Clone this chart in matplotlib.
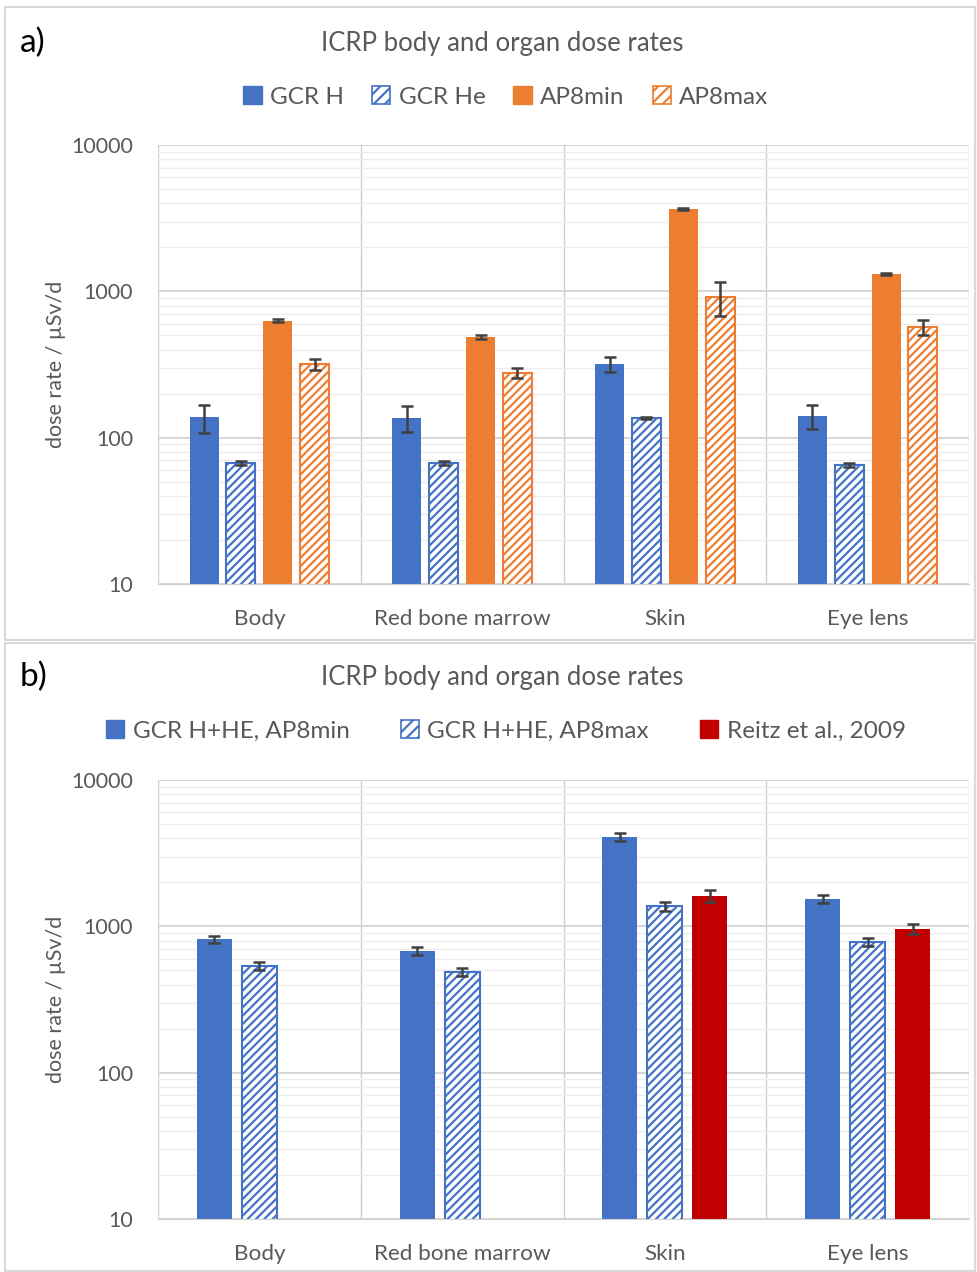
import numpy as np
import matplotlib.pyplot as plt
from matplotlib.patches import Rectangle
from matplotlib.ticker import LogLocator, FixedLocator, NullFormatter

plt.rcParams['font.family'] = ['Lato', 'DejaVu Sans']
plt.rcParams['hatch.linewidth'] = 1.6

# --- Data ---
organs = ["Body", "Red bone marrow", "Skin", "Eye lens"]

# panel a: separate contributions (µSv/d)
gcr_h = [138, 137, 319, 141]
gcr_h_err = [30, 28, 36, 26]
gcr_he = [67, 67, 137, 65]
gcr_he_err = [2, 2, 2, 2]
ap8min = [628, 488, 3660, 1315]
ap8min_err = [15, 12, 60, 25]
ap8max = [319, 277, 916, 571]
ap8max_err = [28, 22, 240, 70]

# panel b: totals compared with measurement
tot_min = [820, 679, 4080, 1540]
tot_min_err = [45, 40, 260, 85]
tot_max = [535, 488, 1378, 782]
tot_max_err = [35, 30, 100, 50]
reitz = [np.nan, np.nan, 1614, 960]
reitz_err = [np.nan, np.nan, 150, 80]

BLUE = "#4472C4"
ORANGE = "#ED7D31"
RED = "#C00000"
TXT = "#595959"
ERR = "#404040"

W, H = 977, 1272
fig = plt.figure(figsize=(W / 100, H / 100), dpi=100)


def fx(px):
    return px / W


def fy(py):
    return 1 - py / H


def setup_axes(ax):
    ax.set_yscale("log")
    ax.set_ylim(10, 10000)
    ax.set_xlim(-0.5, len(organs) - 0.5)
    ax.yaxis.set_major_locator(FixedLocator([10, 100, 1000, 10000]))
    ax.set_yticklabels(["10", "100", "1000", "10000"])
    ax.yaxis.set_minor_locator(LogLocator(base=10, subs=np.arange(2, 10)))
    ax.yaxis.set_minor_formatter(NullFormatter())
    ax.grid(which="major", axis="y", color="#d0d0d0", lw=1.2)
    ax.grid(which="minor", axis="y", color="#ededed", lw=1.0)
    for b in np.arange(-0.5, len(organs), 1.0):
        ax.axvline(b, color="#d0d0d0", lw=1.0, zorder=0.5)
    ax.set_axisbelow(True)
    for s in ["top", "right", "left"]:
        ax.spines[s].set_visible(False)
    ax.spines["bottom"].set_color("#d0d0d0")
    ax.tick_params(axis="both", which="both", length=0, colors=TXT)
    ax.tick_params(axis="y", pad=18, labelsize=15.5)
    ax.tick_params(axis="x", pad=18, labelsize=16.2)
    ax.set_xticks(range(len(organs)))
    ax.set_xticklabels(organs)
    ax.set_ylabel("dose rate / µSv/d", color=TXT, fontsize=15.5, labelpad=4)


def draw_bars(ax, x, vals, errs, color, hatched, width):
    if hatched:
        ax.bar(x, vals, width, color="white", edgecolor=color, hatch="////", lw=1.5, zorder=2)
    else:
        ax.bar(x, vals, width, color=color, edgecolor=color, lw=0, zorder=2)
    ax.errorbar(x, vals, yerr=errs, fmt="none", ecolor=ERR, elinewidth=1.8,
                capsize=4, capthick=1.8, zorder=3)


def legend_handle(color, hatched):
    if hatched:
        return Rectangle((0, 0), 1, 1, facecolor="white", edgecolor=color, hatch="///", lw=1.2)
    return Rectangle((0, 0), 1, 1, facecolor=color, edgecolor=color)


x = np.arange(len(organs))

# panel frames
fig.add_artist(Rectangle((fx(5), fy(640)), fx(970), fy(7) - fy(640), transform=fig.transFigure,
                         facecolor="none", edgecolor="#d9d9d9", lw=1.5))
fig.add_artist(Rectangle((fx(5), fy(1271)), fx(970), fy(643) - fy(1271), transform=fig.transFigure,
                         facecolor="none", edgecolor="#d9d9d9", lw=1.5))

# --- panel a ---
ax1 = fig.add_axes([fx(158), fy(584), fx(969 - 158), fy(145) - fy(584)])
setup_axes(ax1)
step, bw = 0.182, 0.143
series_a = [(gcr_h, gcr_h_err, BLUE, False, "GCR H"),
            (gcr_he, gcr_he_err, BLUE, True, "GCR He"),
            (ap8min, ap8min_err, ORANGE, False, "AP8min"),
            (ap8max, ap8max_err, ORANGE, True, "AP8max")]
for i, (v, e, c, h, _) in enumerate(series_a):
    draw_bars(ax1, x + (i - 1.5) * step, v, e, c, h, bw)

fig.text(fx(20), fy(43), "a)", fontsize=24, va="center", ha="left", color="black")
fig.text(fx(502), fy(43), "ICRP body and organ dose rates", fontsize=18.5, ha="center",
         va="center", color=TXT)
fig.legend([legend_handle(c, h) for _, _, c, h, _ in series_a],
           [lbl for *_, lbl in series_a], loc="center", bbox_to_anchor=(fx(506), fy(97)),
           ncol=4, frameon=False, fontsize=17.5, handlelength=0.75, handleheight=0.75,
           handletextpad=0.35, columnspacing=1.15, labelcolor=TXT)

# --- panel b ---
ax2 = fig.add_axes([fx(158), fy(1219), fx(969 - 158), fy(780) - fy(1219)])
setup_axes(ax2)
step, bw = 0.222, 0.172
series_b = [(tot_min, tot_min_err, BLUE, False, "GCR H+HE, AP8min"),
            (tot_max, tot_max_err, BLUE, True, "GCR H+HE, AP8max"),
            (reitz, reitz_err, RED, False, "Reitz et al., 2009")]
for i, (v, e, c, h, _) in enumerate(series_b):
    draw_bars(ax2, x + (i - 1) * step, v, e, c, h, bw)

fig.text(fx(20), fy(677), "b)", fontsize=24, va="center", ha="left", color="black")
fig.text(fx(502), fy(677), "ICRP body and organ dose rates", fontsize=18.5, ha="center",
         va="center", color=TXT)
fig.legend([legend_handle(c, h) for _, _, c, h, _ in series_b],
           [lbl for *_, lbl in series_b], loc="center", bbox_to_anchor=(fx(506), fy(731)),
           ncol=3, frameon=False, fontsize=17.5, handlelength=0.75, handleheight=0.75,
           handletextpad=0.35, columnspacing=2.1, labelcolor=TXT)

fig.savefig("out.png", dpi=100)
